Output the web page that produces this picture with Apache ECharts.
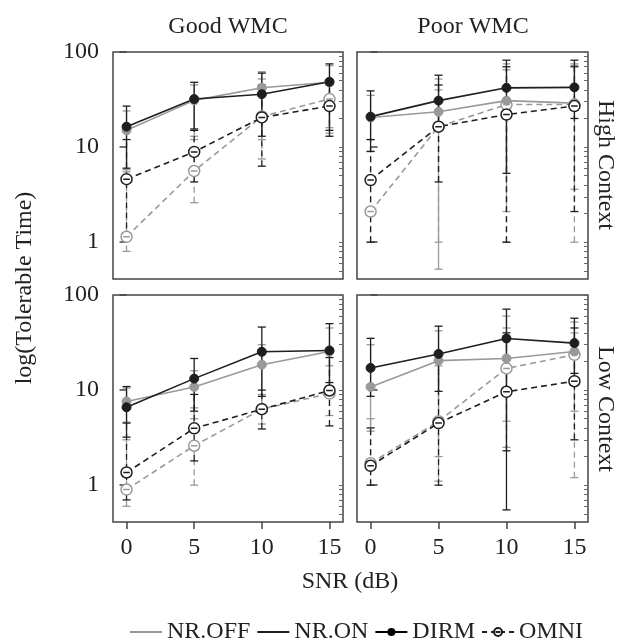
<!DOCTYPE html>
<html>
<head>
<meta charset="utf-8">
<script src="https://cdn.jsdelivr.net/npm/echarts@6/dist/echarts.min.js"></script>
<style>
  html, body { margin: 0; padding: 0; background: #fff; }
  #main { width: 622px; height: 643px; }
</style>
</head>
<body>
<div id="main"></div>
<script>
// x values and tick labels
var snr = [0, 5, 10, 15];
var xTicks = [0, 5, 10, 15];
var yTicks = [1, 10, 100];
var yMinor = [0.5, 0.6, 0.7, 0.8, 0.9, 1, 2, 3, 4, 5, 6, 7, 8, 9, 10, 20, 30, 40, 50, 60, 70, 80, 90, 100];

var colTitles = ['Good WMC', 'Poor WMC'];
var rowTitles = ['High Context', 'Low Context'];
var legendNames = ['NR.OFF', 'NR.ON', 'DIRM', 'OMNI'];

// Good WMC / High Context
var ghOffDirm = [15, 31, 42, 48];
var ghOffDirmErr = [[5.5, 24], [13, 45], [12, 62], [16, 72]];
var ghOnDirm = [16.4, 32, 36, 48.6];
var ghOnDirmErr = [[6, 27], [15.5, 48], [13, 60], [15, 75]];
var ghOffOmni = [1.14, 5.6, 21, 32];
var ghOffOmniErr = [[0.8, 5.8], [2.6, 12], [7.5, 52], [14, 50]];
var ghOnOmni = [4.6, 8.9, 20.5, 27];
var ghOnOmniErr = [[1.1, 12], [4.3, 15], [6.3, 45], [13, 45]];

// Poor WMC / High Context
var phOffDirm = [20.5, 23.5, 30.8, 29];
var phOffDirmErr = [[12, 35], [0.52, 52], [2.1, 75], [3.6, 75]];
var phOnDirm = [20.9, 30.8, 42, 42.5];
var phOnDirmErr = [[9, 39], [16, 57], [5.3, 82], [20, 82]];
var phOffOmni = [2.1, 16.4, 28, 28];
var phOffOmniErr = [[1.0, 9], [1.0, 40], [1.0, 65], [1.0, 72]];
var phOnOmni = [4.5, 16.4, 22, 27];
var phOnOmniErr = [[1.0, 12], [4.3, 45], [1.0, 70], [2.1, 70]];

// Good WMC / Low Context
var glOffDirm = [7.6, 10.8, 18.5, 25.5];
var glOffDirmErr = [[4.6, 10.5], [5, 16], [6, 30], [9, 45]];
var glOnDirm = [6.6, 13.2, 25.3, 26.1];
var glOnDirmErr = [[3.2, 10.9], [6, 21.5], [8.6, 46], [12, 50]];
var glOffOmni = [0.9, 2.6, 6.3, 9.2];
var glOffOmniErr = [[0.6, 3], [1.0, 6.5], [4.4, 9], [5.4, 18]];
var glOnOmni = [1.36, 3.96, 6.3, 9.9];
var glOnOmniErr = [[0.7, 4.5], [1.8, 9], [3.9, 10], [4.2, 22]];

// Poor WMC / Low Context
var plOffDirm = [10.8, 20.4, 21.5, 25.5];
var plOffDirmErr = [[3.7, 30], [2, 42], [4.7, 60], [6, 52]];
var plOnDirm = [17.1, 24, 34.9, 31.2];
var plOnDirmErr = [[8.6, 35], [9.7, 47], [0.55, 71], [15, 57]];
var plOffOmni = [1.7, 4.7, 16.9, 23.5];
var plOffOmniErr = [[1.0, 5], [1.1, 18], [2.5, 45], [1.2, 40]];
var plOnOmni = [1.6, 4.5, 9.6, 12.4];
var plOnOmniErr = [[1.0, 4], [1.0, 20], [2.3, 40], [3, 45]];

var FONT = 'Liberation Serif';
var GRAY = '#999999';
var DARK = '#1e1e1e';
var OMNI_SYM = 'path://M0,5a5,5 0 1,0 10,0a5,5 0 1,0 -10,0zM2,5L8,5';

var chart = echarts.init(document.getElementById('main'));

var grids = [
  { left: 113, top: 52, width: 230, height: 227 },
  { left: 357, top: 52, width: 231, height: 227 },
  { left: 113, top: 295, width: 230, height: 227 },
  { left: 357, top: 295, width: 231, height: 227 }
];
grids.forEach(function (g) {
  g.show = true;
  g.borderColor = '#444';
  g.borderWidth = 1.5;
  g.containLabel = false;
});

var xAxes = [], yAxes = [];
for (var i = 0; i < 4; i++) {
  var bottom = i >= 2, leftCol = (i % 2 === 0);
  xAxes.push({
    type: 'value', gridIndex: i, min: -1, max: 16,
    axisLine: { show: false }, splitLine: { show: false },
    axisTick: { show: bottom, customValues: xTicks, length: 7, lineStyle: { color: '#444', width: 1.5 } },
    axisLabel: { show: bottom, customValues: xTicks, margin: 14, fontSize: 24, fontFamily: FONT, color: '#222' }
  });
  yAxes.push({
    type: 'log', logBase: 10, gridIndex: i, min: 0.41, max: 100,
    axisLine: { show: false }, splitLine: { show: false },
    axisTick: { show: true, customValues: yTicks, inside: !leftCol, length: 7, lineStyle: { color: '#444', width: 1.5 } },
    axisLabel: { show: leftCol, customValues: yTicks, margin: 14, fontSize: 24, fontFamily: FONT, color: '#222' }
  });
  yAxes.push({
    type: 'log', logBase: 10, gridIndex: i, min: 0.41, max: 100,
    axisLine: { show: false }, splitLine: { show: false },
    axisTick: { show: true, customValues: yMinor, inside: true, length: 4, lineStyle: { color: '#666', width: 1 } },
    axisLabel: { show: false }
  });
}

function errBar(color, dash) {
  return function (params, api) {
    var x = api.value(0), lo = api.value(1), hi = api.value(2);
    var p1 = api.coord([x, lo]), p2 = api.coord([x, hi]);
    var w = 4;
    var st = { stroke: color, lineWidth: 1.3, lineDash: dash };
    return {
      type: 'group',
      children: [
        { type: 'line', shape: { x1: p1[0], y1: p1[1], x2: p2[0], y2: p2[1] }, style: st },
        { type: 'line', shape: { x1: p1[0] - w, y1: p1[1], x2: p1[0] + w, y2: p1[1] }, style: { stroke: color, lineWidth: 1.3 } },
        { type: 'line', shape: { x1: p2[0] - w, y1: p2[1], x2: p2[0] + w, y2: p2[1] }, style: { stroke: color, lineWidth: 1.3 } }
      ]
    };
  };
}

var series = [];
function addLine(g, vals, errs, color, dashed, omni) {
  var dash = dashed ? [6, 4] : null;
  series.push({
    type: 'custom', xAxisIndex: g, yAxisIndex: g * 2, z: 2, silent: true,
    renderItem: errBar(color, dash),
    encode: { x: 0, y: [1, 2] },
    data: snr.map(function (s, k) { return [s, errs[k][0], errs[k][1]]; })
  });
  series.push({
    type: 'line', xAxisIndex: g, yAxisIndex: g * 2, z: 3, silent: true,
    data: snr.map(function (s, k) { return [s, vals[k]]; }),
    symbol: omni ? OMNI_SYM : 'circle',
    symbolSize: omni ? 11 : 9,
    lineStyle: { color: color, width: 1.6, type: dashed ? [6, 4] : 'solid' },
    itemStyle: omni ? { color: '#fff', borderColor: color, borderWidth: 1.5 } : { color: color, borderColor: color },
    animation: false
  });
}
function addPanel(g, offDirm, offDirmErr, onDirm, onDirmErr, offOmni, offOmniErr, onOmni, onOmniErr) {
  addLine(g, offOmni, offOmniErr, GRAY, true, true);
  addLine(g, offDirm, offDirmErr, GRAY, false, false);
  addLine(g, onOmni, onOmniErr, DARK, true, true);
  addLine(g, onDirm, onDirmErr, DARK, false, false);
}
addPanel(0, ghOffDirm, ghOffDirmErr, ghOnDirm, ghOnDirmErr, ghOffOmni, ghOffOmniErr, ghOnOmni, ghOnOmniErr);
addPanel(1, phOffDirm, phOffDirmErr, phOnDirm, phOnDirmErr, phOffOmni, phOffOmniErr, phOnOmni, phOnOmniErr);
addPanel(2, glOffDirm, glOffDirmErr, glOnDirm, glOnDirmErr, glOffOmni, glOffOmniErr, glOnOmni, glOnOmniErr);
addPanel(3, plOffDirm, plOffDirmErr, plOnDirm, plOnDirmErr, plOffOmni, plOffOmniErr, plOnOmni, plOnOmniErr);

// legend-only entries (no data)
series.push({ name: legendNames[0], type: 'line', data: [], symbol: 'circle', symbolSize: 0, lineStyle: { color: GRAY, width: 1.5 }, itemStyle: { color: GRAY, opacity: 0 } });
series.push({ name: legendNames[1], type: 'line', data: [], symbol: 'circle', symbolSize: 0, lineStyle: { color: DARK, width: 1.5 }, itemStyle: { color: DARK, opacity: 0 } });
series.push({ name: legendNames[2], type: 'line', data: [], symbol: 'circle', symbolSize: 7, lineStyle: { color: '#000', width: 1.5 }, itemStyle: { color: '#000' } });
series.push({ name: legendNames[3], type: 'line', data: [], symbol: OMNI_SYM, symbolSize: 9, lineStyle: { color: DARK, width: 1.5, type: [5, 4] }, itemStyle: { color: '#fff', borderColor: DARK, borderWidth: 1.2 } });

function txt(s, x, y, rot) {
  return {
    type: 'text', x: x, y: y, rotation: rot || 0, silent: true,
    style: { text: s, font: '24px "' + FONT + '"', fill: '#222', align: 'center', verticalAlign: 'middle' }
  };
}

chart.setOption({
  animation: false,
  backgroundColor: '#fff',
  grid: grids,
  xAxis: xAxes,
  yAxis: yAxes,
  legend: {
    data: [
      { name: legendNames[0], itemStyle: { opacity: 0 } },
      { name: legendNames[1], itemStyle: { opacity: 0 } },
      { name: legendNames[2] },
      { name: legendNames[3] }
    ],
    left: 124, top: 615,
    itemWidth: 32, itemHeight: 10, itemGap: 6,
    selectedMode: false,
    textStyle: { fontSize: 24, fontFamily: FONT, color: '#222' }
  },
  graphic: [
    txt(colTitles[0], 228, 27),
    txt(colTitles[1], 473, 27),
    txt(rowTitles[0], 605, 165, -Math.PI / 2),
    txt(rowTitles[1], 605, 409, -Math.PI / 2),
    txt('log(Tolerable Time)', 25, 288, Math.PI / 2),
    txt('SNR (dB)', 350, 582)
  ],
  series: series
});
</script>
</body>
</html>
